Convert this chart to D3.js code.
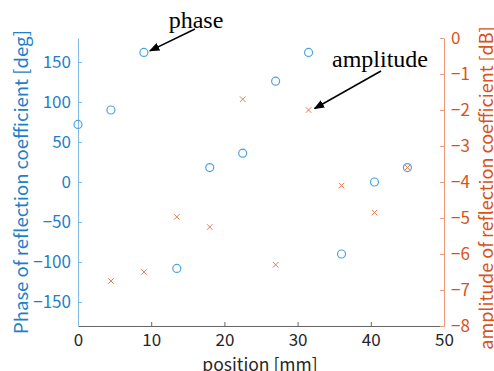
<!DOCTYPE html>
<html>
<head>
<meta charset="utf-8">
<script src="https://cdn.jsdelivr.net/npm/d3@7"></script>
<style>
  body { margin: 0; background: #fff; }
  svg { display: block; }
  text { font-family: "Noto Sans CJK JP", "Noto Sans", sans-serif; }
</style>
</head>
<body>
<div id="chart"></div>
<script>
// positions in mm
const positions = [0, 4.5, 9, 13.5, 18, 22.5, 27, 31.5, 36, 40.5, 45]
// phase of reflection coefficient [deg]
const phase = [72, 90, 162, -108, 18, 36, 126, 162, -90, 0, 18]
// amplitude of reflection coefficient [dB] (none shown at 0 mm)
const ampPositions = [4.5, 9, 13.5, 18, 22.5, 27, 31.5, 36, 40.5, 45]
const amplitude = [-6.75, -6.5, -4.97, -5.25, -1.7, -6.3, -2.0, -4.1, -4.85, -3.6]

const xTicks = [0, 10, 20, 30, 40, 50]
const phaseTicks = [-150, -100, -50, 0, 50, 100, 150]
const ampTicks = [0, -1, -2, -3, -4, -5, -6, -7, -8]

const width = 494, height = 371
const margin = {top: 38, right: 50, bottom: 45, left: 78}

const orange = "#D95319"

const svg = d3.select("#chart").append("svg")
  .attr("width", width)
  .attr("height", height)

const x = d3.scaleLinear().domain([0, 50]).range([margin.left, width - margin.right])
const yL = d3.scaleLinear().domain([-180, 180]).range([height - margin.bottom, margin.top])
const yR = d3.scaleLinear().domain([-8, 0]).range([height - margin.bottom, margin.top])

// bottom axis
const gx = svg.append("g")
  .attr("transform", `translate(0,${height - margin.bottom})`)
  .call(d3.axisBottom(x).tickValues(xTicks).tickSizeInner(-4).tickSizeOuter(0).tickPadding(8))
gx.select(".domain").attr("stroke", "#666")
gx.selectAll(".tick line").attr("stroke", "#666")
gx.selectAll("text").attr("fill", "#262626").attr("font-size", 17)

// left axis
const gl = svg.append("g")
  .attr("transform", `translate(${margin.left},0)`)
  .call(d3.axisLeft(yL).tickValues(phaseTicks).tickSizeInner(-4).tickSizeOuter(0).tickPadding(7))
gl.select(".domain").attr("stroke", "#7fbbe6")
gl.selectAll(".tick line").attr("stroke", "#7fbbe6")
gl.selectAll("text").attr("fill", "#1f7fc8").attr("font-size", 17)

// right axis
const gr = svg.append("g")
  .attr("transform", `translate(${width - margin.right},0)`)
  .call(d3.axisRight(yR).tickValues(ampTicks).tickSizeInner(-4).tickSizeOuter(0).tickPadding(7))
gr.select(".domain").attr("stroke", "#ee9a78")
gr.selectAll(".tick line").attr("stroke", "#ee9a78")
gr.selectAll("text").attr("fill", orange).attr("font-size", 17)

// axis titles
svg.append("text")
  .attr("transform", `translate(${x(25) - 1},${height}) `)
  .attr("text-anchor", "middle")
  .attr("fill", "#262626").attr("font-size", 17.5)
  .text("position [mm]")

svg.append("text")
  .attr("transform", `translate(20,${yL(0)}) rotate(-90)`)
  .attr("text-anchor", "middle").attr("dominant-baseline", "central")
  .attr("fill", "#1f7fc8").attr("font-size", 18.5)
  .text("Phase of reflection coefficient [deg]")

svg.append("text")
  .attr("transform", `translate(485,${yR(-4) + 6}) rotate(-90)`)
  .attr("text-anchor", "middle").attr("dominant-baseline", "central")
  .attr("fill", orange).attr("font-size", 18)
  .text("amplitude of reflection coefficient [dB]")

// phase: circles
svg.append("g").selectAll("circle")
  .data(positions.map((p, i) => ({p, v: phase[i]})))
  .enter().append("circle")
  .attr("cx", d => x(d.p))
  .attr("cy", d => yL(d.v))
  .attr("r", 4)
  .attr("fill", "none")
  .attr("stroke", "#4da3e0")
  .attr("stroke-width", 1.2)

// amplitude: crosses
const cross = d3.symbol().type(d3.symbolX).size(22)
svg.append("g").selectAll("path")
  .data(ampPositions.map((p, i) => ({p, v: amplitude[i]})))
  .enter().append("path")
  .attr("d", cross)
  .attr("transform", d => `translate(${x(d.p)},${yR(d.v)})`)
  .attr("fill", "none")
  .attr("stroke", "#ea7a50")
  .attr("stroke-width", 1)

// annotations
svg.append("defs").append("marker")
  .attr("id", "arrow")
  .attr("viewBox", "0 0 10 10")
  .attr("refX", 9).attr("refY", 5)
  .attr("markerWidth", 7).attr("markerHeight", 7)
  .attr("orient", "auto")
  .append("path").attr("d", "M0,1 L10,5 L0,9 Z").attr("fill", "#000")

const notes = [
  {label: "phase", tx: 196, ty: 28, ax: 195, ay: 29, px: 9, py: 162, scale: yL},
  {label: "amplitude", tx: 380, ty: 67, ax: 381, ay: 71, px: 31.5, py: -2.0, scale: yR}
]
notes.forEach(n => {
  svg.append("text")
    .attr("x", n.tx).attr("y", n.ty)
    .attr("text-anchor", "middle")
    .style("font-family", "'Liberation Serif', serif")
    .attr("font-size", 24)
    .attr("fill", "#000")
    .text(n.label)
  svg.append("line")
    .attr("x1", n.ax).attr("y1", n.ay)
    .attr("x2", x(n.px) + 6).attr("y2", n.scale(n.py) - 1.5)
    .attr("stroke", "#000").attr("stroke-width", 1.5)
    .attr("marker-end", "url(#arrow)")
})
</script>
</body>
</html>
